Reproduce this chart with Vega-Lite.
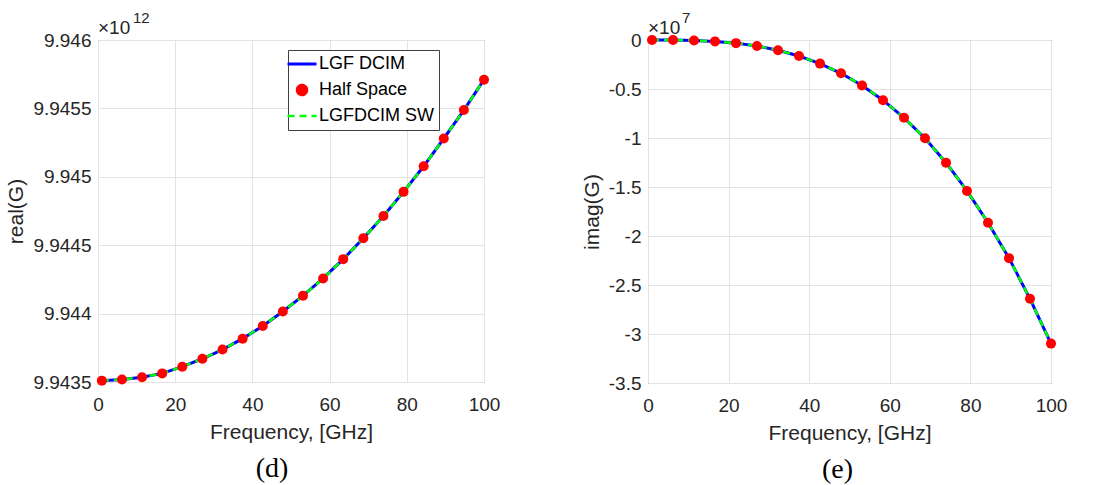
{
  "$schema": "https://vega.github.io/schema/vega-lite/v6.json",
  "background": "white",
  "padding": {"left": 5, "top": 10, "right": 5, "bottom": 5},
  "spacing": 79,
  "config": {
    "font": "Liberation Sans",
    "view": {"stroke": "#4d4d4d", "strokeWidth": 1, "fill": "white"},
    "axis": {
      "labelFont": "Liberation Sans",
      "labelFontSize": 19,
      "labelColor": "#262626",
      "titleFont": "Liberation Sans",
      "titleFontSize": 21,
      "titleFontWeight": "normal",
      "titleColor": "#262626",
      "ticks": false,
      "domain": false,
      "grid": true,
      "gridColor": "#e3e3e3",
      "gridWidth": 1,
      "labelFlush": false,
      "labelOverlap": false
    },
    "axisY": {"labelPadding": 7, "titlePadding": 6},
    "axisX": {"labelPadding": 13, "titlePadding": 7}
  },
  "data": {
    "values": [
      {"f": 1, "re": 9.94351, "im": 0},
      {"f": 6.21, "re": 9.943518, "im": -0.0007},
      {"f": 11.42, "re": 9.943535, "im": -0.0046},
      {"f": 16.63, "re": 9.943563, "im": -0.0143},
      {"f": 21.84, "re": 9.943612, "im": -0.032},
      {"f": 27.05, "re": 9.94367, "im": -0.061},
      {"f": 32.26, "re": 9.943737, "im": -0.104},
      {"f": 37.47, "re": 9.943817, "im": -0.163},
      {"f": 42.68, "re": 9.94391, "im": -0.241},
      {"f": 47.89, "re": 9.944015, "im": -0.34},
      {"f": 53.11, "re": 9.944131, "im": -0.464},
      {"f": 58.32, "re": 9.944257, "im": -0.614},
      {"f": 63.53, "re": 9.944398, "im": -0.794},
      {"f": 68.74, "re": 9.944551, "im": -1.003},
      {"f": 73.95, "re": 9.944714, "im": -1.252},
      {"f": 79.16, "re": 9.94489, "im": -1.54},
      {"f": 84.37, "re": 9.945077, "im": -1.865},
      {"f": 89.58, "re": 9.94528, "im": -2.226},
      {"f": 94.79, "re": 9.945488, "im": -2.641},
      {"f": 100, "re": 9.94571, "im": -3.098}
    ]
  },
  "hconcat": [
    {
      "width": 386,
      "height": 342,
      "title": {"text": "(d)", "orient": "bottom", "anchor": "middle", "frame": "group", "dx": -19, "font": "Liberation Serif", "fontSize": 28, "fontWeight": "normal", "color": "black", "offset": 13},
      "encoding": {
        "x": {"field": "f", "type": "quantitative", "scale": {"domain": [0, 100], "nice": false}, "axis": {"title": "Frequency, [GHz]", "values": [0, 20, 40, 60, 80, 100]}}
      },
      "layer": [
        {
          "mark": {"type": "line", "strokeWidth": 3},
          "encoding": {
            "y": {"field": "re", "type": "quantitative", "scale": {"domain": [9.9435, 9.946], "nice": false, "zero": false}, "axis": {"title": "real(G)", "values": [9.9435, 9.944, 9.9445, 9.945, 9.9455, 9.946], "labelExpr": "'' + datum.value"}},
            "color": {
              "datum": "LGF DCIM",
              "scale": {"domain": ["LGF DCIM", "Half Space", "LGFDCIM SW"], "range": ["#0000ff", "#ff0000", "#00ff00"]},
              "legend": {
                "title": null, "orient": "none", "legendX": 190, "legendY": 10,
                "fillColor": "white", "strokeColor": "#404040", "padding": 5,
                "labelFont": "Liberation Sans", "labelFontSize": 18, "labelColor": "black",
                "symbolSize": 529, "rowPadding": 7, "labelOffset": 8,
                "encode": {"symbols": {"update": {
                  "shape": {"signal": "datum.value === 'Half Space' ? 'circle' : 'stroke'"},
                  "size": {"signal": "datum.value === 'Half Space' ? 100 : 841"},
                  "fill": {"signal": "datum.value === 'Half Space' ? '#ff0000' : 'transparent'"},
                  "stroke": {"signal": "datum.value === 'LGF DCIM' ? '#0000ff' : datum.value === 'Half Space' ? 'transparent' : '#00ff00'"},
                  "strokeWidth": {"signal": "datum.value === 'LGF DCIM' ? 3 : 2.5"},
                  "strokeDash": {"signal": "datum.value === 'LGFDCIM SW' ? [7, 5] : [1, 0]"},
                  "opacity": {"value": 1}
                }}}
              }
            }
          }
        },
        {
          "mark": {"type": "line", "strokeWidth": 2.5, "strokeDash": [7, 5]},
          "encoding": {
            "y": {"field": "re", "type": "quantitative"},
            "color": {"datum": "LGFDCIM SW"}
          }
        },
        {
          "mark": {"type": "point", "filled": true, "size": 100, "opacity": 1},
          "encoding": {
            "y": {"field": "re", "type": "quantitative"},
            "color": {"datum": "Half Space"}
          }
        },
        {
          "transform": [{"filter": "datum.f === 100"}],
          "mark": {"type": "text", "text": "×10", "align": "left", "baseline": "alphabetic", "dy": -6, "fontSize": 19, "color": "#262626"},
          "encoding": {"x": {"datum": 0}, "y": {"datum": 9.946}}
        },
        {
          "transform": [{"filter": "datum.f === 100"}],
          "mark": {"type": "text", "text": "12", "align": "left", "baseline": "alphabetic", "dx": 35, "dy": -17, "fontSize": 15, "color": "#262626"},
          "encoding": {"x": {"datum": 0}, "y": {"datum": 9.946}}
        }
      ]
    },
    {
      "width": 403,
      "height": 343,
      "title": {"text": "(e)", "orient": "bottom", "anchor": "middle", "frame": "group", "dx": -12, "font": "Liberation Serif", "fontSize": 28, "fontWeight": "normal", "color": "black", "offset": 13},
      "encoding": {
        "x": {"field": "f", "type": "quantitative", "scale": {"domain": [0, 100], "nice": false}, "axis": {"title": "Frequency, [GHz]", "values": [0, 20, 40, 60, 80, 100]}}
      },
      "layer": [
        {
          "mark": {"type": "line", "strokeWidth": 3},
          "encoding": {
            "y": {"field": "im", "type": "quantitative", "scale": {"domain": [-3.5, 0], "nice": false, "zero": false}, "axis": {"title": "imag(G)", "values": [-3.5, -3, -2.5, -2, -1.5, -1, -0.5, 0], "labelExpr": "'' + datum.value"}},
            "color": {
              "datum": "LGF DCIM",
              "scale": {"domain": ["LGF DCIM", "Half Space", "LGFDCIM SW"], "range": ["#0000ff", "#ff0000", "#00ff00"]},
              "legend": {
                "title": null, "orient": "none", "legendX": 155, "legendY": 148,
                "fillColor": "white", "strokeColor": "#404040", "padding": 5,
                "labelFont": "Liberation Sans", "labelFontSize": 18, "labelColor": "black",
                "symbolSize": 529, "rowPadding": 7, "labelOffset": 8,
                "encode": {"symbols": {"update": {
                  "shape": {"signal": "datum.value === 'Half Space' ? 'circle' : 'stroke'"},
                  "size": {"signal": "datum.value === 'Half Space' ? 100 : 841"},
                  "fill": {"signal": "datum.value === 'Half Space' ? '#ff0000' : 'transparent'"},
                  "stroke": {"signal": "datum.value === 'LGF DCIM' ? '#0000ff' : datum.value === 'Half Space' ? 'transparent' : '#00ff00'"},
                  "strokeWidth": {"signal": "datum.value === 'LGF DCIM' ? 3 : 2.5"},
                  "strokeDash": {"signal": "datum.value === 'LGFDCIM SW' ? [7, 5] : [1, 0]"},
                  "opacity": {"value": 1}
                }}}
              }
            }
          }
        },
        {
          "mark": {"type": "line", "strokeWidth": 2.5, "strokeDash": [7, 5]},
          "encoding": {
            "y": {"field": "im", "type": "quantitative"},
            "color": {"datum": "LGFDCIM SW"}
          }
        },
        {
          "mark": {"type": "point", "filled": true, "size": 100, "opacity": 1},
          "encoding": {
            "y": {"field": "im", "type": "quantitative"},
            "color": {"datum": "Half Space"}
          }
        },
        {
          "transform": [{"filter": "datum.f === 100"}],
          "mark": {"type": "text", "text": "×10", "align": "left", "baseline": "alphabetic", "dy": -6, "fontSize": 19, "color": "#262626"},
          "encoding": {"x": {"datum": 0}, "y": {"datum": 0}}
        },
        {
          "transform": [{"filter": "datum.f === 100"}],
          "mark": {"type": "text", "text": "7", "align": "left", "baseline": "alphabetic", "dx": 34, "dy": -17, "fontSize": 15, "color": "#262626"},
          "encoding": {"x": {"datum": 0}, "y": {"datum": 0}}
        }
      ]
    }
  ]
}
